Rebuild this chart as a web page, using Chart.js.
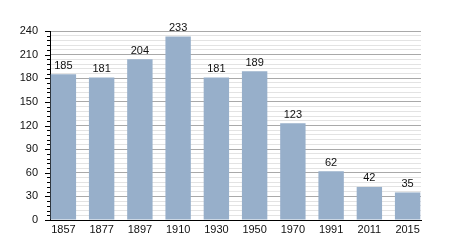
<!DOCTYPE html>
<html>
<head>
<meta charset="utf-8">
<script src="https://cdn.jsdelivr.net/npm/chart.js@4/dist/chart.umd.min.js"></script>
<style>
html,body{margin:0;padding:0;background:#fff;}
#wrap{width:450px;height:250px;position:relative;}
</style>
</head>
<body>
<div id="wrap"><canvas id="c"></canvas></div>
<script>
const categories = ["1857","1877","1897","1910","1930","1950","1970","1991","2011","2015"];
const population = [185,181,204,233,181,189,123,62,42,35];
const yMax = 240;
const yMajorStep = 30;
const yMinorStep = 6;

const points = categories.map((c, i) => ({x: i, y: population[i]}));

const valueLabels = {
  id: 'valueLabels',
  afterDatasetsDraw(chart) {
    const ctx = chart.ctx;
    const meta = chart.getDatasetMeta(0);
    ctx.save();
    ctx.font = '11px "Liberation Sans", Arial, sans-serif';
    ctx.fillStyle = '#111';
    ctx.textAlign = 'center';
    ctx.textBaseline = 'bottom';
    meta.data.forEach((bar, i) => {
      ctx.fillText(String(population[i]), bar.x, bar.y - 3);
    });
    ctx.restore();
  }
};

const yTicks = {
  id: 'yTicks',
  afterDraw(chart) {
    const ctx = chart.ctx;
    const y = chart.scales.y;
    const left = chart.chartArea.left;
    ctx.save();
    ctx.strokeStyle = '#000';
    ctx.lineWidth = 1;
    for (let v = 0; v <= yMax; v += yMinorStep) {
      const py = Math.round(y.getPixelForValue(v)) + 0.5;
      const len = (v % yMajorStep === 0) ? 5 : 3;
      ctx.beginPath();
      ctx.moveTo(left - len, py);
      ctx.lineTo(left, py);
      ctx.stroke();
    }
    ctx.restore();
  }
};

new Chart(document.getElementById('c'), {
  type: 'bar',
  data: {
    datasets: [{
      data: points,
      backgroundColor: '#97afca',
      borderWidth: 0,
      barPercentage: 0.83,
      categoryPercentage: 0.8
    }]
  },
  options: {
    responsive: true,
    maintainAspectRatio: false,
    animation: false,
    layout: {padding: {top: 31, right: 29, bottom: 0, left: 0}},
    plugins: {legend: {display: false}, tooltip: {enabled: false}},
    scales: {
      x: {
        type: 'linear',
        min: -0.35,
        max: 9.35,
        offset: false,
        afterBuildTicks(scale) {
          scale.ticks = categories.map((c, i) => ({value: i}));
        },
        afterFit(scale) { scale.height = 30; },
        grid: {display: false, drawTicks: false},
        border: {display: true, color: '#000', width: 1},
        ticks: {
          padding: 3,
          color: '#111',
          font: {family: '"Liberation Sans", Arial, sans-serif', size: 11},
          maxRotation: 0,
          autoSkip: false,
          callback: (v) => categories[v]
        }
      },
      y: {
        min: 0,
        max: yMax,
        afterBuildTicks(scale) {
          const t = [];
          for (let v = 0; v <= yMax; v += yMinorStep) t.push({value: v});
          scale.ticks = t;
        },
        afterFit(scale) { scale.width = 50; },
        grid: {
          drawTicks: false,
          color: (ctx) => (ctx.tick && ctx.tick.value % yMajorStep === 0) ? '#a9a9a9' : '#e3e3e3',
          lineWidth: 1
        },
        border: {display: true, color: '#000', width: 1},
        ticks: {
          padding: 12,
          color: '#111',
          font: {family: '"Liberation Sans", Arial, sans-serif', size: 11},
          autoSkip: false,
          callback: (v) => (v % yMajorStep === 0) ? String(v) : ''
        }
      }
    }
  },
  plugins: [valueLabels, yTicks]
});
</script>
</body>
</html>
